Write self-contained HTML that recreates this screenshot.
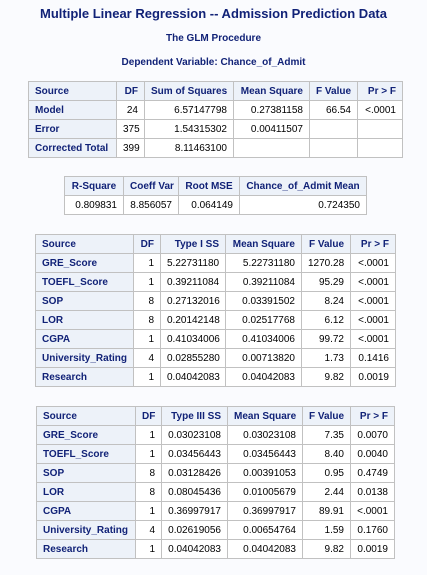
<!DOCTYPE html>
<html><head><meta charset="utf-8"><style>
html,body{margin:0;padding:0;}
body{width:427px;height:575px;background:#fafbfe;position:relative;overflow:hidden;font-family:"Liberation Sans",Arial,sans-serif;}
.t{position:absolute;left:0;width:427px;text-align:center;color:#112277;font-weight:bold;}
table{position:absolute;border-collapse:collapse;table-layout:fixed;font-size:10px;}
tr{height:19px;}
td,th{border:1px solid #c1c1c1;padding:0 6px;white-space:nowrap;overflow:hidden;}
th{background:#edf2f9;color:#112277;font-weight:bold;text-align:right;}
th.l{text-align:left;}
td{background:#fff;color:#000;text-align:right;}
</style></head><body>
<div class="t" style="top:6px;font-size:13px;">Multiple Linear Regression -- Admission Prediction Data</div>
<div class="t" style="top:33px;font-size:10px;">The GLM Procedure</div>
<div class="t" style="top:57px;font-size:10px;">Dependent Variable: Chance_of_Admit</div>

<table style="left:28px;top:81px;width:374px;">
<colgroup><col style="width:88px"><col style="width:28px"><col style="width:89px"><col style="width:76px"><col style="width:48px"><col style="width:45px"></colgroup>
<tr><th class="l">Source</th><th>DF</th><th>Sum of Squares</th><th>Mean Square</th><th>F Value</th><th>Pr &gt; F</th></tr>
<tr><th class="l">Model</th><td>24</td><td>6.57147798</td><td>0.27381158</td><td>66.54</td><td>&lt;.0001</td></tr>
<tr><th class="l">Error</th><td>375</td><td>1.54315302</td><td>0.00411507</td><td></td><td></td></tr>
<tr><th class="l">Corrected Total</th><td>399</td><td>8.11463100</td><td></td><td></td><td></td></tr>
</table>

<table style="left:64px;top:176px;width:302px;">
<colgroup><col style="width:59px"><col style="width:55px"><col style="width:61px"><col style="width:127px"></colgroup>
<tr><th style="text-align:center">R-Square</th><th style="text-align:center">Coeff Var</th><th style="text-align:center">Root MSE</th><th style="text-align:center">Chance_of_Admit Mean</th></tr>
<tr><td>0.809831</td><td>8.856057</td><td>0.064149</td><td>0.724350</td></tr>
</table>

<table style="left:35px;top:234px;width:360px;">
<colgroup><col style="width:98px"><col style="width:27px"><col style="width:65px"><col style="width:76px"><col style="width:49px"><col style="width:45px"></colgroup>
<tr><th class="l">Source</th><th>DF</th><th>Type I SS</th><th>Mean Square</th><th>F Value</th><th>Pr &gt; F</th></tr>
<tr><th class="l">GRE_Score</th><td>1</td><td>5.22731180</td><td>5.22731180</td><td>1270.28</td><td>&lt;.0001</td></tr>
<tr><th class="l">TOEFL_Score</th><td>1</td><td>0.39211084</td><td>0.39211084</td><td>95.29</td><td>&lt;.0001</td></tr>
<tr><th class="l">SOP</th><td>8</td><td>0.27132016</td><td>0.03391502</td><td>8.24</td><td>&lt;.0001</td></tr>
<tr><th class="l">LOR</th><td>8</td><td>0.20142148</td><td>0.02517768</td><td>6.12</td><td>&lt;.0001</td></tr>
<tr><th class="l">CGPA</th><td>1</td><td>0.41034006</td><td>0.41034006</td><td>99.72</td><td>&lt;.0001</td></tr>
<tr><th class="l">University_Rating</th><td>4</td><td>0.02855280</td><td>0.00713820</td><td>1.73</td><td>0.1416</td></tr>
<tr><th class="l">Research</th><td>1</td><td>0.04042083</td><td>0.04042083</td><td>9.82</td><td>0.0019</td></tr>
</table>

<table style="left:36px;top:406px;width:358px;">
<colgroup><col style="width:99px"><col style="width:26px"><col style="width:66px"><col style="width:75px"><col style="width:48px"><col style="width:44px"></colgroup>
<tr><th class="l">Source</th><th>DF</th><th>Type III SS</th><th>Mean Square</th><th>F Value</th><th>Pr &gt; F</th></tr>
<tr><th class="l">GRE_Score</th><td>1</td><td>0.03023108</td><td>0.03023108</td><td>7.35</td><td>0.0070</td></tr>
<tr><th class="l">TOEFL_Score</th><td>1</td><td>0.03456443</td><td>0.03456443</td><td>8.40</td><td>0.0040</td></tr>
<tr><th class="l">SOP</th><td>8</td><td>0.03128426</td><td>0.00391053</td><td>0.95</td><td>0.4749</td></tr>
<tr><th class="l">LOR</th><td>8</td><td>0.08045436</td><td>0.01005679</td><td>2.44</td><td>0.0138</td></tr>
<tr><th class="l">CGPA</th><td>1</td><td>0.36997917</td><td>0.36997917</td><td>89.91</td><td>&lt;.0001</td></tr>
<tr><th class="l">University_Rating</th><td>4</td><td>0.02619056</td><td>0.00654764</td><td>1.59</td><td>0.1760</td></tr>
<tr><th class="l">Research</th><td>1</td><td>0.04042083</td><td>0.04042083</td><td>9.82</td><td>0.0019</td></tr>
</table>
</body></html>
